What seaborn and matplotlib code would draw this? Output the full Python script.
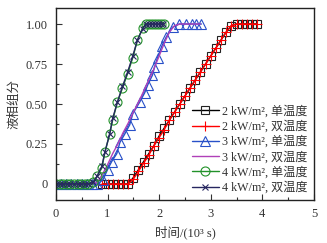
import matplotlib
matplotlib.use("Agg")
import matplotlib.pyplot as plt
import seaborn as sns
import numpy as np

# ---- data (time in 10^3 s, liquid fraction) ----
t_2s = [0.9, 1.0, 1.1, 1.2, 1.3, 1.4, 1.5, 1.6, 1.7, 1.8, 1.9, 2.0, 2.1, 2.2, 2.3, 2.4, 2.5,
        2.6, 2.7, 2.8, 2.9, 3.0, 3.1, 3.2, 3.3, 3.4, 3.5, 3.6, 3.7, 3.8, 3.9]
y_2s = [0, 0, 0, 0, 0, 0, 0.04, 0.09, 0.14, 0.19, 0.24, 0.30, 0.35, 0.40, 0.45, 0.50, 0.55,
        0.60, 0.65, 0.70, 0.75, 0.80, 0.85, 0.90, 0.95, 0.99, 1.0, 1.0, 1.0, 1.0, 1.0]
t_2d = [0.9, 1.0, 1.1, 1.2, 1.3, 1.4, 1.5, 1.6, 1.7, 1.8, 1.9, 2.0, 2.1, 2.2, 2.3, 2.4, 2.5,
        2.6, 2.7, 2.8, 2.9, 3.0, 3.1, 3.2, 3.3, 3.4, 3.5, 3.6, 3.7, 3.8, 3.9]
y_2d = [0, 0, 0, 0, 0, 0, 0.03, 0.08, 0.13, 0.18, 0.24, 0.29, 0.34, 0.40, 0.45, 0.50, 0.55,
        0.60, 0.65, 0.70, 0.75, 0.80, 0.85, 0.90, 0.95, 0.99, 1.0, 1.0, 1.0, 1.0, 1.0]

t_3s = [0, 0.1, 0.2, 0.3, 0.4, 0.5, 0.6, 0.7, 0.8, 0.91, 1.0, 1.08, 1.18, 1.24, 1.33, 1.43,
        1.49, 1.62, 1.72, 1.78, 1.87, 1.91, 1.97, 2.05, 2.14, 2.26, 2.39, 2.53, 2.63, 2.72, 2.82]
y_3s = [0, 0, 0, 0, 0, 0, 0, 0, 0, 0.025, 0.09, 0.14, 0.19, 0.26, 0.31, 0.37,
        0.44, 0.51, 0.57, 0.62, 0.68, 0.73, 0.79, 0.86, 0.92, 0.98, 1.0, 1.0, 1.0, 1.0, 1.0]
t_3d = [0, 0.1, 0.2, 0.3, 0.4, 0.5, 0.6, 0.7, 0.8, 0.9, 1.0, 1.1, 1.2, 1.3, 1.4, 1.5, 1.6,
        1.7, 1.8, 1.9, 2.0, 2.1, 2.2, 2.3, 2.4, 2.5, 2.6, 2.7, 2.8]
y_3d = [0, 0, 0, 0, 0, 0, 0, 0, 0.01, 0.06, 0.12, 0.19, 0.25, 0.32, 0.38, 0.45, 0.51,
        0.58, 0.65, 0.72, 0.80, 0.88, 0.95, 0.99, 1.0, 1.0, 1.0, 1.0, 1.0]

t_4s = [0, 0.07, 0.14, 0.21, 0.28, 0.35, 0.42, 0.49, 0.56, 0.63, 0.72, 0.80, 0.89, 0.95,
        1.04, 1.10, 1.19, 1.29, 1.39, 1.49, 1.58, 1.68, 1.74, 1.80, 1.86, 1.92, 1.98, 2.04, 2.10]
y_4s = [0, 0, 0, 0, 0, 0, 0, 0, 0, 0, 0.01, 0.05, 0.10, 0.20,
        0.31, 0.40, 0.51, 0.60, 0.69, 0.79, 0.90, 0.975, 1.0, 1.0, 1.0, 1.0, 1.0, 1.0, 1.0]
t_4d = [0, 0.07, 0.14, 0.21, 0.28, 0.35, 0.42, 0.49, 0.56, 0.63, 0.72, 0.80, 0.89, 0.95,
        1.04, 1.10, 1.19, 1.29, 1.39, 1.49, 1.58, 1.68, 1.74, 1.80, 1.86, 1.92, 1.98, 2.04, 2.08]
y_4d = [0, 0, 0, 0, 0, 0, 0, 0, 0, 0, 0.01, 0.05, 0.11, 0.20,
        0.31, 0.41, 0.51, 0.61, 0.70, 0.80, 0.90, 0.97, 1.0, 1.0, 1.0, 1.0, 1.0, 1.0, 1.0]

labels = ["2 kW/m², 单温度", "2 kW/m², 双温度", "3 kW/m², 单温度",
          "3 kW/m², 双温度", "4 kW/m², 单温度", "4 kW/m², 双温度"]
x_ticks = [0, 1, 2, 3, 4, 5]
y_ticks = [0, 0.25, 0.5, 0.75, 1.0]
y_ticklabels = ["0", "0.25", "0.50", "0.75", "1.00"]

sns.set_style("ticks")
plt.rcParams["font.family"] = ["Liberation Serif", "Noto Sans CJK SC"]
plt.rcParams["axes.unicode_minus"] = False

fig = plt.figure(figsize=(3.27, 2.43), dpi=100)
ax = fig.add_axes([0.171, 0.177, 0.789, 0.790])

series = [
    (t_2s, y_2s, "#000000", "s", True, 5.5),
    (t_2d, y_2d, "#ff0000", "+", False, 7),
    (t_3s, y_3s, "#2850c8", "^", True, 6.5),
    (t_3d, y_3d, "#b040b8", None, False, 0),
    (t_4s, y_4s, "#22922a", "o", True, 6.5),
    (t_4d, y_4d, "#262660", "x", False, 5),
]
for (tx, ty, col, mk, hollow, ms), lab in zip(series, labels):
    kw = dict(x=tx, y=ty, ax=ax, color=col, linewidth=1.0, label=lab)
    if mk is not None:
        kw.update(marker=mk, markersize=ms, markeredgewidth=0.8)
        if hollow:
            kw.update(markerfacecolor="none", markeredgecolor=col if col != "#000000" else "#222222")
        else:
            kw.update(markeredgecolor=col)
    sns.lineplot(**kw)

ax.set_xlim(0, 5)
ax.set_ylim(-0.1, 1.1)
ax.set_xticks(x_ticks)
ax.set_xticklabels([str(v) for v in x_ticks])
ax.set_xticks([0.5, 1.5, 2.5, 3.5, 4.5], minor=True)
ax.set_yticks(y_ticks)
ax.set_yticklabels(y_ticklabels)
ax.set_yticks([0.125, 0.375, 0.625, 0.875], minor=True)
ax.tick_params(axis="both", which="both", direction="in", labelsize=9, colors="#333333",
               labelcolor="#333333", pad=6)
ax.tick_params(which="major", length=4, width=0.8)
ax.tick_params(which="minor", length=2.5, width=0.8)
for s in ax.spines.values():
    s.set_visible(True)
    s.set_linewidth(1.0)
    s.set_color("#222222")

ax.set_xlabel("时间/(10³ s)", fontsize=9, color="#333333", labelpad=4)
ax.set_ylabel("液相组分", fontsize=9, color="#333333", labelpad=4)

leg = ax.legend(loc="lower right", frameon=False, fontsize=8.7, handlelength=2.2,
                handletextpad=0.3, labelspacing=0.22, borderaxespad=0.1,
                bbox_to_anchor=(1.0, 0.0))
for txt in leg.get_texts():
    txt.set_color("#333333")

fig.savefig("out.png", dpi=100)
